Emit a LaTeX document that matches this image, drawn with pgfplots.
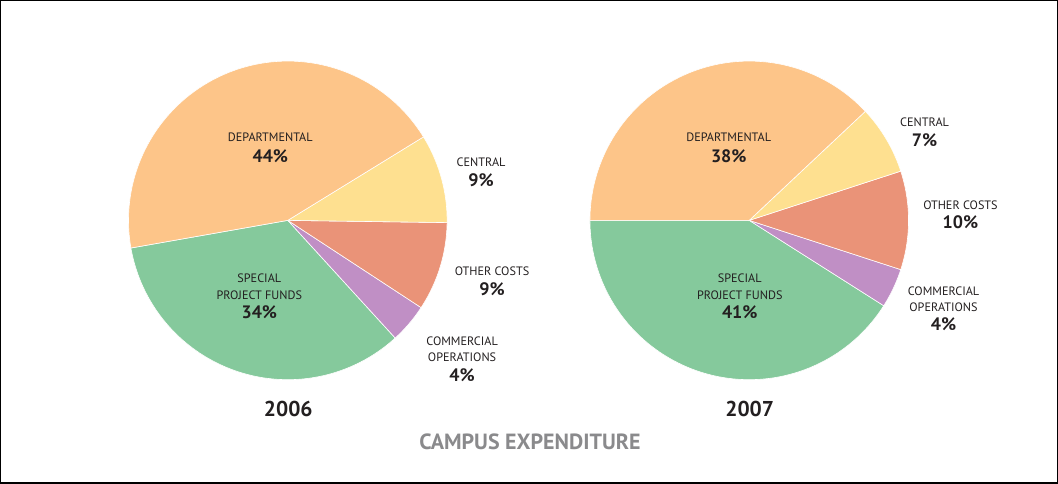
\documentclass[border=0pt]{standalone}
\usepackage{pgfplots}
\pgfplotsset{compat=1.18}
\usepackage{fontspec}
\setmainfont{PT Sans}
\definecolor{cspecial}{HTML}{85C99C}
\definecolor{cdept}{HTML}{FDC589}
\definecolor{ccentral}{HTML}{FEE090}
\definecolor{cother}{HTML}{EA9378}
\definecolor{ccomm}{HTML}{C08FC5}
\definecolor{ctitle}{HTML}{8A8A8C}
\definecolor{ctext}{HTML}{231F20}
% slice: cx, cy, r, start angle, cumulative pct from, cumulative pct to, colour
\newcommand{\slice}[7]{%
  \addplot[fill=#7, draw=white, line width=0.6bp, domain={#4+3.6*#5}:{#4+3.6*#6}, samples=80]
    ({#1+#3*cos(x)},{#2+#3*sin(x)}) -- (axis cs:#1,#2) -- cycle;
}
\newcommand{\lab}[3]{\node[font=\fontsize{12.2bp}{13bp}\selectfont, text=ctext, inner sep=0pt] at (axis cs:#1,#2) {#3};}
\newcommand{\pct}[3]{\node[font=\fontsize{18bp}{19bp}\selectfont\bfseries, text=ctext, inner sep=0pt] at (axis cs:#1,#2) {#3};}
\begin{document}
\begin{tikzpicture}
\begin{axis}[width=1058bp, height=483bp, scale only axis,
  xmin=0, xmax=1058, ymin=0, ymax=483, ticks=none,
  axis line style={line width=1.3bp, black}, clip=false]
% 2006: Special 34, Commercial 4, Other 9, Central 9, Departmental 44
\slice{287.5}{263}{159.5}{190}{0}{34}{cspecial}
\slice{287.5}{263}{159.5}{190}{34}{38}{ccomm}
\slice{287.5}{263}{159.5}{190}{38}{47}{cother}
\slice{287.5}{263}{159.5}{190}{47}{56}{ccentral}
\slice{287.5}{263}{159.5}{190}{56}{100}{cdept}
% 2007: Special 41, Commercial 4, Other 10, Central 7, Departmental 38
\slice{749.5}{263}{159.5}{180}{0}{41}{cspecial}
\slice{749.5}{263}{159.5}{180}{41}{45}{ccomm}
\slice{749.5}{263}{159.5}{180}{45}{55}{cother}
\slice{749.5}{263}{159.5}{180}{55}{62}{ccentral}
\slice{749.5}{263}{159.5}{180}{62}{100}{cdept}
% labels 2006
\lab{270}{346}{DEPARTMENTAL}\pct{270}{327}{44\%}
\lab{481}{321}{CENTRAL}\pct{481}{303}{9\%}
\lab{492}{212}{OTHER COSTS}\pct{492}{194}{9\%}
\lab{462}{142}{COMMERCIAL}\lab{462}{126}{OPERATIONS}\pct{462}{108}{4\%}
\lab{259}{205}{SPECIAL}\lab{259}{188}{PROJECT FUNDS}\pct{259}{171}{34\%}
% labels 2007
\lab{729}{346}{DEPARTMENTAL}\pct{729}{327}{38\%}
\lab{925}{361}{CENTRAL}\pct{925}{343}{7\%}
\lab{961}{278}{OTHER COSTS}\pct{961}{261}{10\%}
\lab{944}{192}{COMMERCIAL}\lab{944}{176}{OPERATIONS}\pct{944}{159}{4\%}
\lab{740}{205}{SPECIAL}\lab{740}{188}{PROJECT FUNDS}\pct{740}{171}{41\%}
% years and title
\node[font=\fontsize{21.5bp}{23bp}\selectfont\bfseries, text=ctext, inner sep=0pt] at (axis cs:288,74) {2006};
\node[font=\fontsize{21.5bp}{23bp}\selectfont\bfseries, text=ctext, inner sep=0pt] at (axis cs:750,74) {2007};
\node[font=\fontsize{22bp}{24bp}\selectfont\bfseries, text=ctitle, inner sep=0pt] at (axis cs:530,41) {CAMPUS EXPENDITURE};
\end{axis}
\end{tikzpicture}
\end{document}
